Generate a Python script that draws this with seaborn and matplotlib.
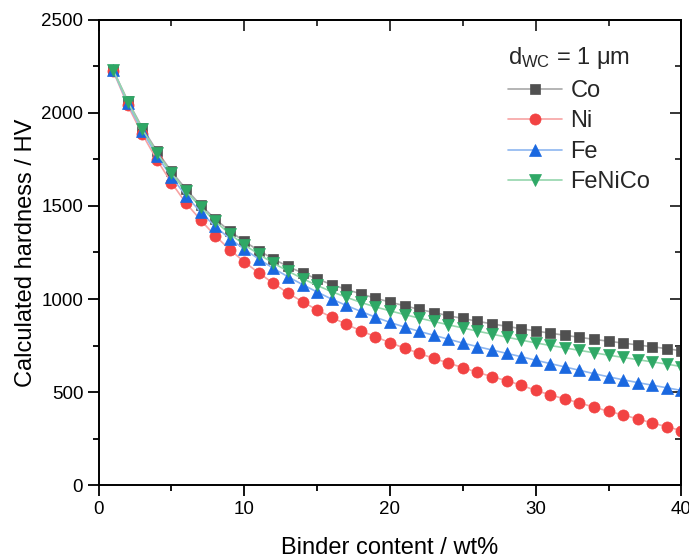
import numpy as np
import pandas as pd
import matplotlib
matplotlib.use("Agg")
import matplotlib.pyplot as plt
import seaborn as sns
from matplotlib.ticker import MultipleLocator

binder = list(range(1, 41))
co = [2230, 2065, 1920, 1795, 1685, 1590, 1505, 1430, 1365, 1310,
      1260, 1215, 1175, 1140, 1108, 1078, 1052, 1028, 1005, 984,
      964, 945, 928, 911, 896, 881, 867, 854, 841, 829,
      817, 806, 795, 784, 774, 764, 754, 744, 734, 722]
ni = [2225, 2040, 1885, 1748, 1625, 1515, 1425, 1340, 1266, 1200,
      1140, 1085, 1032, 986, 942, 902, 865, 830, 798, 766,
      737, 709, 682, 657, 632, 607, 584, 562, 538, 510,
      486, 464, 443, 420, 398, 378, 357, 335, 315, 294]
fe = [2228, 2050, 1902, 1770, 1656, 1555, 1468, 1390, 1325, 1268,
      1215, 1165, 1120, 1078, 1038, 1000, 966, 934, 903, 875,
      850, 827, 806, 785, 764, 745, 727, 709, 691, 672,
      654, 636, 618, 600, 583, 567, 552, 538, 524, 510]
fenico = [2230, 2060, 1912, 1785, 1675, 1578, 1495, 1418, 1350, 1292,
          1240, 1193, 1150, 1110, 1073, 1040, 1010, 982, 958, 937,
          917, 898, 880, 862, 845, 828, 812, 796, 780, 765,
          751, 738, 725, 712, 699, 687, 675, 663, 651, 638]

series_names = ["Co", "Ni", "Fe", "FeNiCo"]
series_vals = [co, ni, fe, fenico]
marker_colors = ["#505050", "#f24343", "#1a68e0", "#2fa866"]
line_colors = ["#a8a8a8", "#f7a3a3", "#8db6f0", "#95d6ad"]
markers = ["s", "o", "^", "v"]
msizes = [7, 8, 8.5, 8.5]

df = pd.DataFrame({
    "binder": binder * 4,
    "hardness": co + ni + fe + fenico,
    "alloy": sum([[n] * len(binder) for n in series_names], []),
})

sns.set_theme(style="white")
plt.rcParams["font.family"] = ["Liberation Sans", "DejaVu Sans"]
plt.rcParams["mathtext.fontset"] = "custom"
plt.rcParams["mathtext.rm"] = "Liberation Sans"
plt.rcParams["mathtext.it"] = "Liberation Sans:italic"

fig = plt.figure(figsize=(6.89, 5.58), dpi=100)
ax = fig.add_axes([0.143, 0.130, 0.846, 0.835])

for name, mc, lc, mk, ms in zip(series_names, marker_colors, line_colors, markers, msizes):
    sub = df[df["alloy"] == name]
    sns.lineplot(data=sub, x="binder", y="hardness", ax=ax, color=lc, lw=1.2,
                 marker=mk, markersize=ms, markerfacecolor=mc,
                 markeredgecolor=mc, markeredgewidth=0.5, label=name)

ax.set_xlim(0, 40)
ax.set_ylim(0, 2500)
ax.xaxis.set_major_locator(MultipleLocator(10))
ax.xaxis.set_minor_locator(MultipleLocator(5))
ax.yaxis.set_major_locator(MultipleLocator(500))
ax.yaxis.set_minor_locator(MultipleLocator(250))
ax.tick_params(axis="both", which="major", direction="out", length=8, width=1.3,
               labelsize=13.5, color="black", labelcolor="black", pad=3,
               bottom=True, left=True)
ax.tick_params(axis="both", which="minor", direction="out", length=4, width=1.3,
               color="black", bottom=True, left=True)
for sp in ax.spines.values():
    sp.set_visible(True)
    sp.set_color("black")
    sp.set_linewidth(1.4)

sec_x = ax.secondary_xaxis("top")
sec_x.xaxis.set_major_locator(MultipleLocator(10))
sec_x.xaxis.set_minor_locator(MultipleLocator(5))
sec_x.tick_params(axis="x", which="major", direction="in", length=8, width=1.3, labeltop=False)
sec_x.tick_params(axis="x", which="minor", direction="in", length=4, width=1.3)
sec_x.spines["top"].set_linewidth(1.4)
sec_y = ax.secondary_yaxis("right")
sec_y.yaxis.set_major_locator(MultipleLocator(500))
sec_y.yaxis.set_minor_locator(MultipleLocator(250))
sec_y.tick_params(axis="y", which="major", direction="in", length=8, width=1.3, labelright=False)
sec_y.tick_params(axis="y", which="minor", direction="in", length=4, width=1.3)
sec_y.spines["right"].set_linewidth(1.4)

ax.set_xlabel("Binder content / wt%", fontsize=17, labelpad=14, color="black")
ax.set_ylabel("Calculated hardness / HV", fontsize=17, labelpad=3, color="black")

leg = ax.legend(title=r"d$_{\mathrm{WC}}$ = 1 μm", loc="upper left",
                bbox_to_anchor=(0.678, 0.975), frameon=False, fontsize=17,
                title_fontsize=17, handlelength=2.3, handletextpad=0.35,
                labelspacing=0.36, borderaxespad=0.2)
leg._legend_box.align = "left"

fig.savefig("out.png", dpi=100)
